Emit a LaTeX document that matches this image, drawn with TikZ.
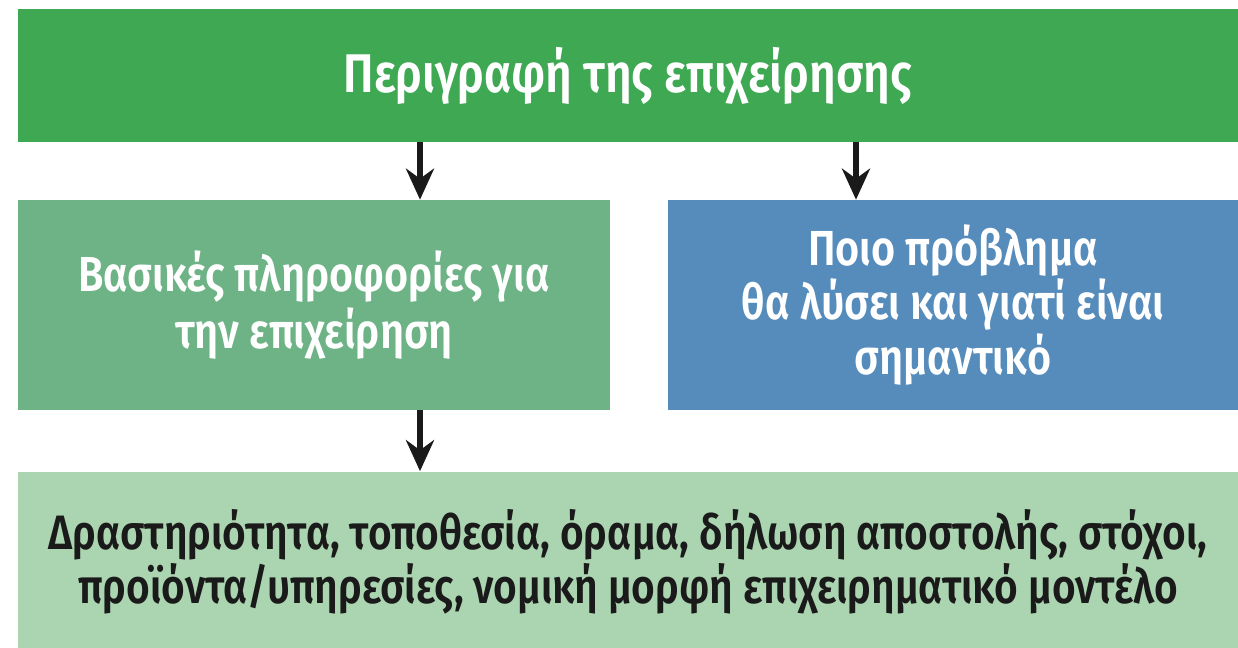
\documentclass[tikz,border=0pt]{standalone}
\usepackage{fontspec}
\setmainfont{Fira Sans}[FakeStretch=0.84,BoldFont={Fira Sans SemiBold}]
\usetikzlibrary{arrows.meta, positioning}

\definecolor{topgreen}{HTML}{3EA853}
\definecolor{midgreen}{HTML}{6DB386}
\definecolor{midblue}{HTML}{568CBB}
\definecolor{lightgreen}{HTML}{ABD5B1}
\definecolor{textdark}{HTML}{1A1A1A}

\tikzset{
    box/.style={inner sep=0pt, align=center, font=\bfseries},
    arr/.style={-{Stealth[length=0.62cm, width=0.56cm, inset=0.2cm]}, line width=3pt, textdark}
}

\begin{document}
\begin{tikzpicture}[x=0.02cm, y=-0.02cm]
    \useasboundingbox (0,0) rectangle (1238,648);

    % Top bar
    \node[box, fill=topgreen, text=white, minimum width=24.4cm, minimum height=2.66cm,
          font=\fontsize{31}{37}\selectfont\bfseries] (top) at (628,75.5)
        {Περιγραφή της επιχείρησης};

    % Middle row
    \node[box, fill=midgreen, text=white, minimum width=11.84cm, minimum height=4.2cm,
          font=\fontsize{28}{32}\selectfont\bfseries] (info) at (314,305)
        {Βασικές πληροφορίες για\\την επιχείρηση};
    \node[box, fill=midblue, text=white, minimum width=11.4cm, minimum height=4.2cm,
          font=\fontsize{28}{31}\selectfont\bfseries] (problem) at (953,305)
        {Ποιο πρόβλημα\\θα λύσει και γιατί είναι\\σημαντικό};

    % Bottom bar
    \node[box, fill=lightgreen, text=textdark, minimum width=24.4cm, minimum height=3.62cm,
          font=\fontsize{27.5}{31}\selectfont\bfseries] (details) at (628,562)
        {Δραστηριότητα, τοποθεσία, όραμα, δήλωση αποστολής, στόχοι,\\προϊόντα/υπηρεσίες, νομική μορφή επιχειρηματικό μοντέλο};

    % Arrows
    \coordinate (ax1) at (420,0);
    \coordinate (ax2) at (856,0);
    \draw[arr] (top.south -| ax1) -- (info.north -| ax1);
    \draw[arr] (top.south -| ax2) -- (problem.north -| ax2);
    \draw[arr] (info.south -| ax1) -- (details.north -| ax1);
\end{tikzpicture}
\end{document}
